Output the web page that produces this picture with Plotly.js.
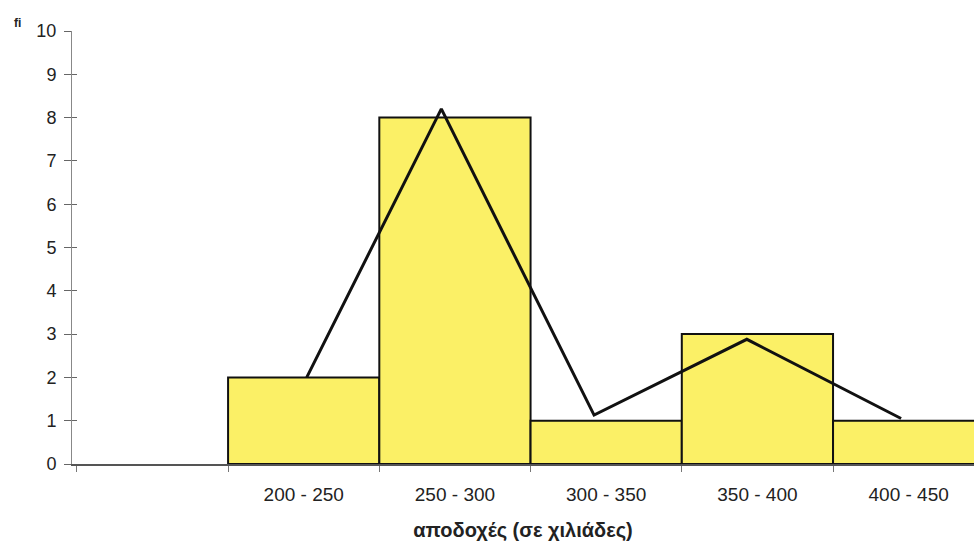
<!DOCTYPE html>
<html>
<head>
<meta charset="utf-8">
<script src="https://cdn.plot.ly/plotly-3.0.1.min.js"></script>
<style>html,body{margin:0;padding:0;background:#fff;}#chart{width:974px;height:543px;}</style>
</head>
<body>
<div id="chart"></div>
<script>
// Class intervals (thousands) and frequencies
const classLow = [200, 250, 300, 350, 400];
const classWidth = 50;
const categories = ["200 - 250", "250 - 300", "300 - 350", "350 - 400", "400 - 450"];
const freq = [2, 8, 1, 3, 1];
// Frequency polygon as drawn (slightly offset in the original)
const polyX = [226, 270.5, 321, 371.5, 422.5];
const polyY = [2.0, 8.2, 1.13, 2.88, 1.05];
const boundaries = [150, 200, 250, 300, 350, 400, 450];
const yTicks = [0,1,2,3,4,5,6,7,8,9,10];

const centers = classLow.map(v => v + classWidth / 2);
const fam = "Liberation Sans, Arial, sans-serif";
const xr = [148.4, 446.6];

const data = [
  {type: "bar", x: centers, y: freq, width: classWidth,
   marker: {color: "#fbf066", line: {color: "#111", width: 2}},
   hoverinfo: "skip"},
  {type: "scatter", mode: "lines", x: polyX, y: polyY,
   line: {color: "#111", width: 3}, hoverinfo: "skip"},
  {type: "scatter", x: [xr[0]], y: [0], xaxis: "x2", yaxis: "y2", mode: "markers",
   marker: {opacity: 0}, hoverinfo: "skip"}
];

const layout = {
  width: 974, height: 543,
  margin: {l: 72, r: 0, t: 31, b: 79},
  paper_bgcolor: "#fff", plot_bgcolor: "#fff",
  showlegend: false,
  bargap: 0,
  xaxis: {
    range: xr, showgrid: false, zeroline: false,
    showline: true, linecolor: "#555", linewidth: 1.5,
    tickmode: "array", tickvals: boundaries, ticktext: boundaries.map(() => ""),
    ticks: "outside", ticklen: 6, tickcolor: "#777", tickwidth: 1,
    title: {text: "<b>αποδοχές (σε χιλιάδες)</b>", font: {family: fam, size: 20, color: "#222"}, standoff: 50}
  },
  xaxis2: {
    overlaying: "x", matches: "x", range: xr, side: "bottom",
    showgrid: false, zeroline: false, showline: false,
    tickmode: "array", tickvals: centers, ticktext: categories,
    ticks: "", ticklabelstandoff: 17, tickfont: {family: fam, size: 19, color: "#222"}
  },
  yaxis: {
    range: [0, 10], showgrid: false, zeroline: false,
    showline: true, linecolor: "#888", linewidth: 1,
    tickmode: "array", tickvals: yTicks,
    ticks: "outside", ticklen: 7, tickcolor: "#666", tickwidth: 1,
    ticklabelstandoff: 4,
    tickfont: {family: fam, size: 18, color: "#222"}
  },
  yaxis2: {
    overlaying: "y", matches: "y", range: [0, 10], side: "left",
    showgrid: false, zeroline: false, showline: false,
    tickmode: "array", tickvals: yTicks, showticklabels: false,
    ticks: "inside", ticklen: 5, tickcolor: "#666", tickwidth: 1
  },
  annotations: [
    {text: "<b>fi</b>", xref: "paper", yref: "paper", x: -0.06, y: 1.04,
     xanchor: "center", showarrow: false, font: {family: fam, size: 12, color: "#222"}}
  ]
};

Plotly.newPlot("chart", data, layout, {displayModeBar: false, staticPlot: true});
</script>
</body>
</html>
